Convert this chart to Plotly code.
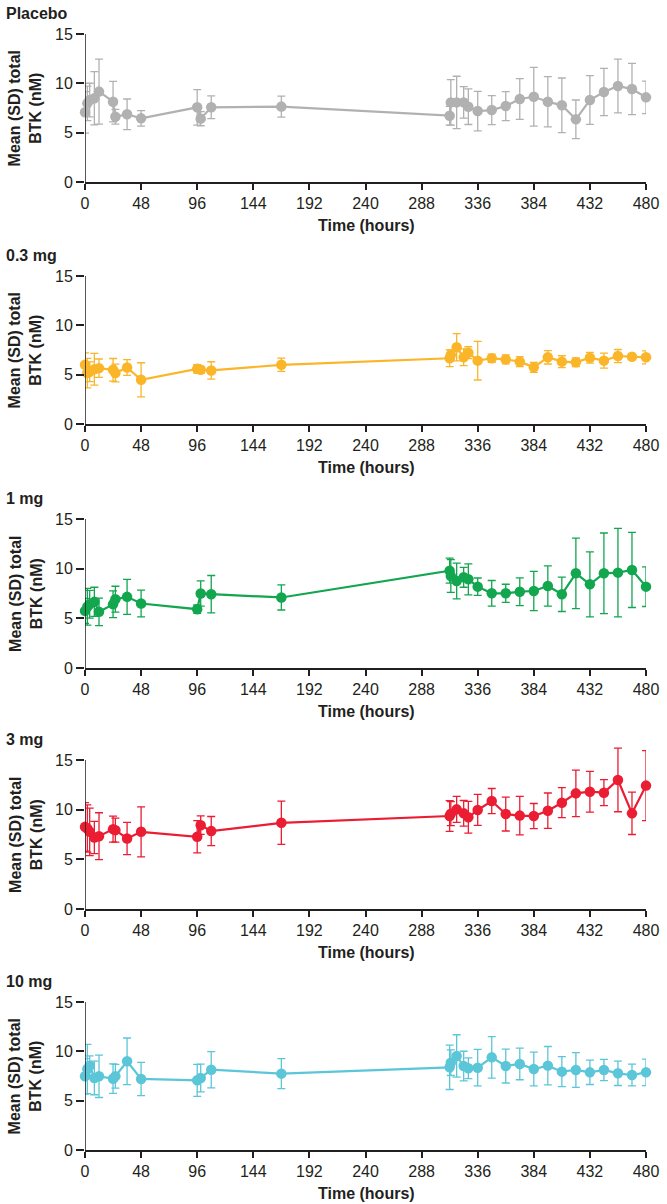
import plotly.graph_objects as go

# ---------------- data ----------------
time_h = [0, 2, 4, 8, 12, 24, 26, 36, 48, 96, 99, 108, 168,
          312, 313, 318, 324, 328, 336, 348, 360, 372, 384, 396,
          408, 420, 432, 444, 456, 468, 480]

panel_titles = ["Placebo", "0.3 mg", "1 mg", "3 mg", "10 mg"]
x_ticks = [0, 48, 96, 144, 192, 240, 288, 336, 384, 432, 480]
y_ticks = [0, 5, 10, 15]

placebo_mean = [7.06, 7.97, 8.31, 8.48, 9.16, 8.14, 6.62, 6.86, 6.45, 7.57, 6.42, 7.57, 7.64,
                6.72, 8.07, 8.07, 8.07, 7.63, 7.19, 7.29, 7.70, 8.41, 8.64, 8.14,
                7.77, 6.35, 8.31, 9.12, 9.73, 9.42, 8.58]
placebo_sd = [2.10, 1.75, 1.70, 2.70, 3.30, 2.05, 0.75, 1.55, 0.78, 1.80, 0.72, 1.15, 1.07,
              0.95, 2.30, 2.65, 1.60, 1.80, 2.00, 1.47, 1.47, 2.06, 2.98, 2.55,
              2.77, 1.96, 2.47, 2.40, 2.72, 2.60, 1.64]

mg03_mean = [6.00, 5.16, 5.30, 5.55, 5.66, 5.49, 5.16, 5.73, 4.48, 5.59, 5.49, 5.43, 6.00,
             6.66, 6.99, 7.77, 6.76, 7.23, 6.42, 6.66, 6.55, 6.32, 5.74, 6.76,
             6.32, 6.25, 6.72, 6.42, 6.89, 6.82, 6.76]
mg03_sd = [1.20, 1.50, 1.00, 1.60, 0.93, 1.15, 0.90, 0.80, 1.73, 0.42, 0.35, 0.88, 0.67,
           0.85, 0.50, 1.38, 0.85, 0.60, 1.96, 0.42, 0.46, 0.50, 0.50, 0.68,
           0.60, 0.44, 0.54, 0.76, 0.66, 0.25, 0.66]

mg1_mean = [5.75, 6.16, 6.42, 6.66, 5.65, 6.42, 6.93, 7.16, 6.49, 5.92, 7.50, 7.43, 7.10,
            9.80, 9.26, 8.76, 9.13, 8.93, 8.19, 7.52, 7.52, 7.68, 7.75, 8.26,
            7.42, 9.53, 8.42, 9.53, 9.60, 9.87, 8.19]
mg1_sd = [1.26, 1.85, 1.40, 1.47, 1.38, 1.35, 1.30, 1.77, 1.35, 0.42, 1.28, 1.88, 1.26,
          1.26, 1.64, 1.80, 1.00, 1.56, 0.87, 1.29, 0.91, 1.40, 1.98, 2.03,
          1.73, 3.55, 3.28, 4.06, 4.46, 3.78, 2.00]

mg3_mean = [8.27, 8.10, 7.77, 7.20, 7.33, 8.04, 7.94, 7.10, 7.77, 7.27, 8.44, 7.84, 8.68,
            9.36, 9.60, 10.03, 9.63, 9.23, 9.97, 10.87, 9.56, 9.40, 9.36, 9.90,
            10.70, 11.64, 11.81, 11.71, 12.99, 9.63, 12.42]
mg3_sd = [2.44, 2.38, 2.39, 1.63, 2.36, 1.30, 1.20, 1.62, 2.52, 1.62, 0.93, 1.47, 2.17,
          1.55, 1.20, 1.30, 1.29, 1.60, 1.56, 1.26, 1.71, 1.93, 1.26, 1.78,
          1.51, 2.35, 2.05, 1.31, 3.20, 2.13, 3.52]

mg10_mean = [7.47, 8.21, 8.55, 7.30, 7.47, 7.23, 7.47, 8.99, 7.20, 7.06, 7.30, 8.14, 7.74,
             8.38, 8.85, 9.53, 8.51, 8.28, 8.34, 9.39, 8.51, 8.72, 8.21, 8.55,
             7.94, 8.11, 7.87, 8.11, 7.77, 7.60, 7.87]
mg10_sd = [1.80, 2.50, 1.00, 1.70, 2.15, 1.50, 1.20, 2.36, 1.68, 1.62, 1.40, 1.84, 1.52,
           2.25, 1.30, 2.15, 1.50, 1.05, 1.85, 2.10, 1.72, 1.60, 1.72, 1.94,
           1.52, 1.76, 1.23, 1.08, 1.23, 1.10, 1.35]

means = [placebo_mean, mg03_mean, mg1_mean, mg3_mean, mg10_mean]
sds = [placebo_sd, mg03_sd, mg1_sd, mg3_sd, mg10_sd]
colors = ["#b1b1b1", "#fbb529", "#12a64f", "#ea1d33", "#5cc6d9"]

# ---------------- layout geometry (pixels) ----------------
W, H = 667, 1204
ML, MR, MT, MB = 85, 17, 8, 54
plot_h = H - MT - MB
plot_w = W - ML - MR
panel_px = [(34, 182), (276, 424), (519, 668), (760, 909), (1002, 1150)]  # y=15 px, y=0 px
Y_AXIS_MAX = 15
Y_RANGE_MAX = 17  # extra headroom so error bars above 15 are not clipped


def py(p):
    return (H - MB - p) / plot_h


def px(p):
    return (p - ML) / plot_w


FONT = "Liberation Sans, Arial, Helvetica, sans-serif"
TXT = "#231f20"

fig = go.Figure()
layout = dict(width=W, height=H, margin=dict(l=ML, r=MR, t=MT, b=MB),
              paper_bgcolor="white", plot_bgcolor="white", showlegend=False,
              font=dict(family=FONT, color=TXT))
annotations = []
shapes = []

for i in range(5):
    suffix = "" if i == 0 else str(i + 1)
    top, bot = panel_px[i]
    top_ext = bot - (bot - top) * Y_RANGE_MAX / Y_AXIS_MAX
    fig.add_trace(go.Scatter(
        x=time_h, y=means[i],
        mode="lines+markers",
        line=dict(color=colors[i], width=2.2),
        marker=dict(color=colors[i], size=10.5),
        error_y=dict(type="data", array=sds[i], visible=True,
                     color=colors[i], thickness=1.3, width=4),
        cliponaxis=False,
        xaxis="x" + suffix, yaxis="y" + suffix,
    ))
    layout["xaxis" + suffix] = dict(
        domain=[0, 1], anchor="y" + suffix, range=[0, 480],
        tickvals=x_ticks, ticks="outside", ticklen=6, tickwidth=1.5,
        tickcolor=TXT, showline=True, linecolor=TXT, linewidth=1.5,
        showgrid=False, zeroline=False,
        tickfont=dict(size=16, color=TXT, family=FONT))
    layout["yaxis" + suffix] = dict(
        domain=[max(0.0, py(bot)), min(1.0, py(top_ext))], anchor="x" + suffix,
        range=[0, Y_RANGE_MAX],
        tickvals=y_ticks, ticks="outside", ticklen=8, tickwidth=1.5,
        tickcolor=TXT, showline=False,
        showgrid=False, zeroline=False,
        tickfont=dict(size=16, color=TXT, family=FONT))
    # y axis line from 0 to 15 only
    shapes.append(dict(type="line", xref="x" + suffix, yref="y" + suffix,
                       x0=0, x1=0, y0=0, y1=Y_AXIS_MAX, layer="above",
                       line=dict(color=TXT, width=1.5)))
    # panel title
    annotations.append(dict(
        text="<b>" + panel_titles[i] + "</b>", xref="paper", yref="paper",
        x=px(3), y=py(top - 21), xanchor="left", yanchor="middle",
        showarrow=False, font=dict(size=16, color=TXT, family=FONT)))
    # y title
    annotations.append(dict(
        text="<b>Mean (SD) total<br>BTK (nM)</b>", xref="paper", yref="paper",
        x=px(25), y=py((top + bot) / 2), xanchor="center", yanchor="middle",
        textangle=-90, showarrow=False,
        font=dict(size=16, color=TXT, family=FONT)))
    # x title
    annotations.append(dict(
        text="<b>Time (hours)</b>", xref="paper", yref="paper",
        x=px(369), y=py(bot + 43), xanchor="center", yanchor="middle",
        showarrow=False, font=dict(size=16, color=TXT, family=FONT)))

layout["annotations"] = annotations
layout["shapes"] = shapes
fig.update_layout(**layout)
fig.write_html("out.html",
               config={"displayModeBar": False},
               post_script="document.body.style.margin='0px';document.body.style.overflow='hidden';")
